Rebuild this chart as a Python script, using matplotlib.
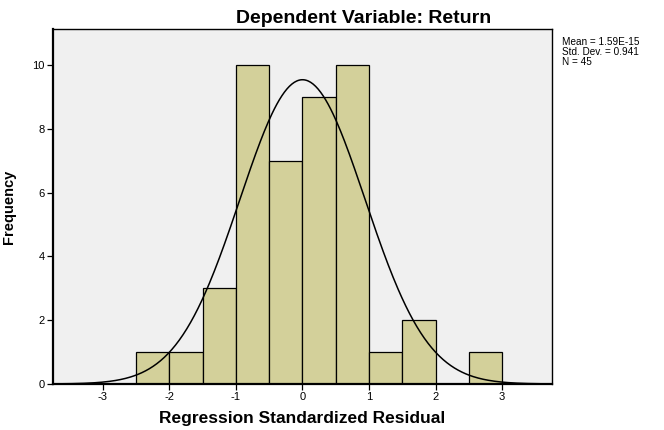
import numpy as np
import matplotlib.pyplot as plt

plt.rcParams['font.family'] = ['Liberation Sans', 'DejaVu Sans']
plt.rcParams['axes.unicode_minus'] = False

# histogram bins (left edges, width 0.5) and counts
bin_edges = [-2.5, -2.0, -1.5, -1.0, -0.5, 0.0, 0.5, 1.0, 1.5, 2.0, 2.5, 3.0]
counts = [1, 1, 3, 10, 7, 9, 10, 1, 2, 0, 1]

# summary shown in the legend box
mean = 1.59e-15
std_dev = 0.941
n = 45

x_ticks = [-3, -2, -1, 0, 1, 2, 3]
y_ticks = [0, 2, 4, 6, 8, 10]

fig = plt.figure(figsize=(6.64, 4.30), dpi=100)
ax = fig.add_axes([0.0798, 0.107, 0.7515, 0.8256])
ax.set_facecolor('#f0f0f0')

edges = np.array(bin_edges)
widths = np.diff(edges)
ax.bar(edges[:-1], counts, width=widths, align='edge',
       color='#d3d09a', edgecolor='black', linewidth=0.9, zorder=2)

# normal curve scaled to counts
xs = np.linspace(-3.75, 3.75, 400)
bw = widths[0]
ys = n * bw / (std_dev * np.sqrt(2 * np.pi)) * np.exp(-0.5 * ((xs - mean) / std_dev) ** 2)
ax.plot(xs, ys, color='black', linewidth=1.1, zorder=3)

ax.set_xlim(-3.75, 3.75)
ax.set_ylim(0, 11.13)
ax.set_xticks(x_ticks)
ax.set_yticks(y_ticks)
ax.tick_params(direction='out', length=4, width=0.9, labelsize=8, pad=2)
for s in ax.spines.values():
    s.set_linewidth(1.0)
ax.spines['left'].set_linewidth(1.6)
ax.spines['bottom'].set_linewidth(1.6)

fig.text(0.548, 0.958, 'Dependent Variable: Return', fontsize=14,
         fontweight='bold', ha='center', va='center')
ax.set_xlabel('Regression Standardized Residual', fontsize=12.5, fontweight='bold', labelpad=6)
ax.set_ylabel('Frequency', fontsize=10.5, fontweight='bold', labelpad=12)

fig.text(0.846, 0.913, 'Mean = 1.59E-15\nStd. Dev. = 0.941\nN = 45',
         fontsize=7.2, va='top', ha='left', linespacing=0.95)

fig.savefig('out.png', dpi=100)
